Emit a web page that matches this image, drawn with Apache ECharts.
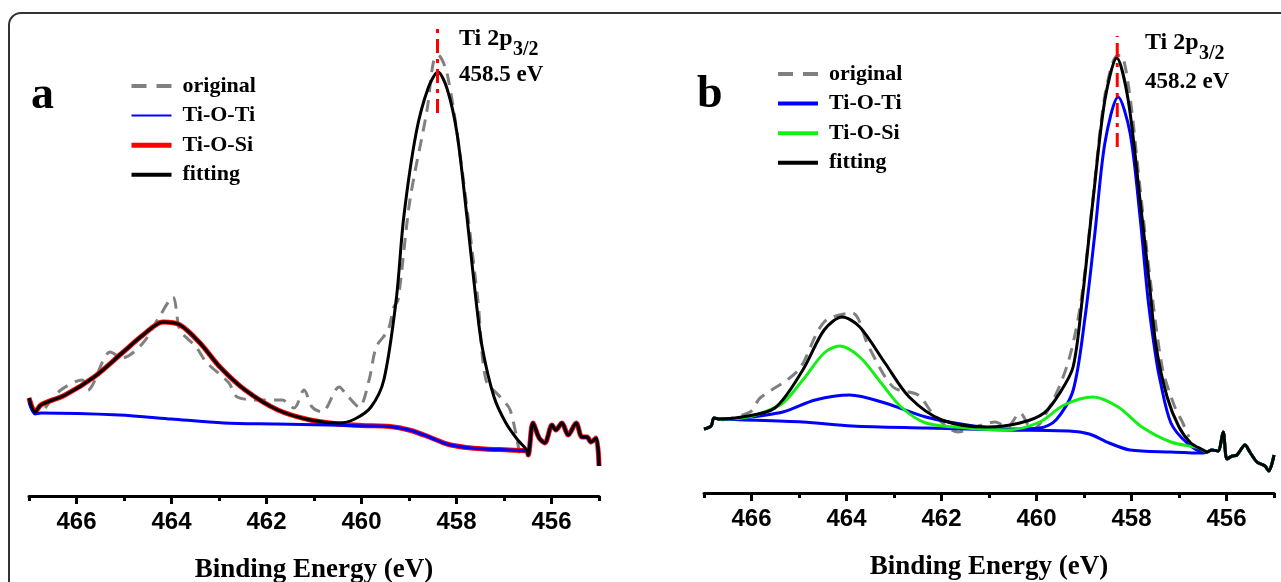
<!DOCTYPE html>
<html><head><meta charset="utf-8">
<script src="https://cdn.jsdelivr.net/npm/echarts@6/dist/echarts.min.js"></script>
<style>html,body{margin:0;padding:0;background:#fff}#c{width:1281px;height:582px}</style>
</head><body><div id="c"></div>
<script>
// ---------- tick labels ----------
const majorTicks = [456, 458, 460, 462, 464, 466];
const minorTicks = [455, 457, 459, 461, 463, 465, 467];

// ---------- panel a ----------
const aOrigE = [466.66, 466.33, 465.88, 465.76, 465.29, 465.04, 464.6, 464.26, 463.97, 463.82, 463.48, 463.27, 462.79, 462.62, 462.12, 461.67, 461.42, 461.21, 461.04, 460.83, 460.47, 460.31, 460.05, 459.84, 459.69, 459.44, 459.32, 459.23, 458.98, 458.62, 458.49, 458.39, 458.2, 457.91, 457.55, 457.38, 457.08, 456.87, 456.66];
const aOrigV = [17.6, 21.2, 23.2, 21.2, 28.8, 27.6, 30.6, 35.8, 39.8, 33.2, 29.8, 26.8, 22.6, 19.8, 19.2, 19.2, 17.6, 21.2, 17.8, 16.8, 21.8, 20.2, 17.8, 23.2, 29.8, 33.2, 37.8, 39.2, 59.2, 77.2, 86.6, 88.2, 84.6, 67.2, 39.2, 23.2, 19.8, 17.2, 7.8];

const aFitE = [467.0, 466.87, 466.75, 466.24, 465.63, 465.04, 464.6, 464.18, 463.82, 463.4, 462.98, 462.45, 461.76, 461.08, 460.47, 460.14, 459.8, 459.53, 459.27, 459.11, 458.85, 458.6, 458.39, 458.2, 457.99, 457.78, 457.59, 457.46, 457.21, 456.96, 456.71, 456.52];
const aFitV = [19.6, 16.8, 18.2, 20.2, 23.8, 28.6, 32.2, 34.8, 34.2, 30.6, 25.8, 21.2, 17.2, 15.2, 14.6, 15.4, 17.8, 23.2, 39.2, 55.8, 72.6, 81.5, 84.8, 81.5, 72.6, 55.8, 39.2, 29.8, 19.8, 14.6, 11.2, 9.2];

const aSiE = [467.0, 466.87, 466.75, 466.24, 465.63, 465.04, 464.6, 464.18, 463.82, 463.4, 462.98, 462.45, 461.76, 461.08, 460.47, 460.0, 459.4, 459.0, 458.6, 458.2, 457.8, 457.4, 456.9, 456.52];
const aSiV = [19.6, 16.8, 18.2, 20.2, 23.8, 28.6, 32.2, 34.8, 34.2, 30.6, 25.8, 21.2, 17.2, 15.2, 14.4, 14.1, 13.9, 13.2, 11.9, 10.4, 9.7, 9.4, 9.2, 9.0];

const aTiE = [467.0, 466.87, 466.75, 465.1, 464.0, 462.9, 461.8, 460.7, 459.8, 459.4, 459.0, 458.6, 458.2, 457.8, 457.4, 456.9, 456.52];
const aTiV = [18.8, 16.4, 16.6, 16.2, 15.4, 14.6, 14.4, 14.2, 14.0, 13.9, 13.2, 11.9, 10.4, 9.7, 9.4, 9.2, 9.0];

const aTailE = [456.49, 456.39, 456.26, 456.14, 455.99, 455.91, 455.78, 455.65, 455.48, 455.36, 455.25, 455.17, 455.06, 455.0];
const aTailV = [8.2, 14.6, 11.6, 10.6, 14.2, 13.2, 14.6, 12.2, 14.6, 11.8, 11.8, 10.8, 11.6, 6.0];

const aPeakE = [458.4, 458.4];
const aPeakV = [76.6, 93.4];

// ---------- panel b ----------
const bOrigE = [466.62, 466.03, 465.82, 465.25, 464.96, 464.47, 463.88, 463.53, 463.02, 462.49, 462.16, 461.65, 461.29, 460.87, 460.62, 460.35, 460.09, 459.67, 459.32, 459.06, 458.81, 458.56, 458.3, 458.22, 458.05, 457.82, 457.61, 457.35, 457.1, 456.92, 456.79];
const bOrigV = [14.6, 16.2, 19.0, 22.6, 25.2, 34.2, 36.0, 29.2, 21.2, 19.6, 15.6, 12.2, 13.2, 14.2, 13.2, 16.0, 12.6, 18.2, 26.6, 38.5, 59.0, 79.5, 87.5, 87.5, 80.5, 61.0, 43.0, 25.0, 17.5, 14.0, 11.2];

const bFitE = [467.0, 466.85, 466.79, 466.66, 466.2, 465.51, 464.92, 464.47, 464.09, 463.72, 463.19, 462.68, 461.99, 461.04, 460.35, 459.84, 459.51, 459.23, 459.04, 458.81, 458.56, 458.31, 458.07, 457.82, 457.61, 457.48, 457.25, 457.0, 456.75, 456.49];
const bFitV = [12.8, 13.4, 15.0, 14.8, 15.2, 17.0, 24.6, 32.6, 35.2, 33.2, 26.0, 19.2, 14.6, 13.2, 14.0, 16.0, 20.0, 25.2, 38.5, 58.6, 78.6, 87.0, 78.6, 58.6, 40.6, 29.2, 19.2, 13.2, 10.0, 8.6];

const bTiE = [467.0, 466.85, 466.79, 466.66, 466.2, 465.34, 464.66, 463.93, 463.19, 462.33, 461.46, 460.62, 459.93, 459.59, 459.23, 458.98, 458.77, 458.56, 458.28, 458.03, 457.82, 457.65, 457.5, 457.4, 457.17, 456.83, 456.49];
const bTiV = [12.8, 13.4, 15.0, 14.8, 15.0, 16.2, 18.6, 19.6, 18.0, 15.2, 13.6, 12.8, 13.0, 14.6, 20.5, 35.0, 52.0, 70.0, 79.2, 72.0, 55.2, 38.6, 28.0, 22.6, 14.0, 10.0, 8.2];

const bSiE = [467.0, 466.85, 466.79, 466.66, 466.2, 465.78, 465.34, 464.92, 464.47, 464.14, 463.72, 463.27, 462.85, 462.33, 461.46, 460.62, 459.93, 459.42, 458.81, 458.28, 457.78, 457.17, 456.58];
const bSiV = [12.8, 13.4, 15.0, 14.8, 15.0, 16.0, 18.0, 22.6, 28.0, 29.4, 27.2, 22.0, 17.2, 14.0, 13.0, 12.6, 14.2, 17.6, 19.2, 17.2, 13.2, 10.2, 9.0];

const bBgE = [467.0, 466.85, 466.79, 466.66, 464.92, 463.88, 462.33, 460.62, 459.32, 458.89, 458.47, 458.03, 457.17, 456.49];
const bBgV = [12.8, 13.4, 15.0, 14.8, 14.2, 13.4, 13.0, 12.6, 12.4, 11.8, 10.0, 8.6, 8.2, 8.0];

const bTailE = [456.41, 456.31, 456.18, 456.07, 455.99, 455.88, 455.78, 455.61, 455.51, 455.36, 455.19, 455.11, 455.0];
const bTailV = [8.2, 8.6, 8.4, 12.2, 6.8, 7.4, 7.6, 9.6, 8.2, 6.2, 5.4, 4.4, 7.6];

const bPeakE = [458.3, 458.3];
const bPeakV = [69.2, 91.4];

// ---------- helpers ----------
const zip = (E, V) => E.map((e, i) => [e, V[i]]);
const SERIF = "'Liberation Serif','Times New Roman',serif";
const SANS = "'Liberation Sans',Arial,sans-serif";

function xAxes(g) {
  return [{
    gridIndex: g, type: 'value', min: 455, max: 467, interval: 1, inverse: true, position: 'bottom',
    axisLine: { show: true, onZero: false, lineStyle: { color: '#000', width: 3 } },
    axisTick: { show: true, customValues: majorTicks, length: 8, lineStyle: { color: '#000', width: 3 } },
    axisLabel: { show: true, customValues: majorTicks, margin: 14, fontFamily: SANS, fontWeight: 'bold', fontSize: 24, color: '#000' },
    splitLine: { show: false },
    name: 'Binding Energy (eV)', nameLocation: 'middle', nameGap: 61,
    nameTextStyle: { fontFamily: SERIF, fontWeight: 'bold', fontSize: 27, color: '#000' }
  }, {
    gridIndex: g, type: 'value', min: 455, max: 467, interval: 1, inverse: true, position: 'bottom', offset: 0,
    axisLine: { show: false, onZero: false },
    axisTick: { show: true, customValues: minorTicks, length: 5, lineStyle: { color: '#000', width: 3 } },
    axisLabel: { show: false }, splitLine: { show: false }
  }];
}

function line(name, xi, yi, data, color, width, extra) {
  return Object.assign({
    name, type: 'line', xAxisIndex: xi, yAxisIndex: yi, data,
    symbol: 'none', smooth: 0.3, silent: true,
    lineStyle: { color, width }, itemStyle: { color }
  }, extra || {});
}
const dashed = { lineStyle: { color: '#808080', width: 3, type: [12, 8] } };
const dashDot = { smooth: false, lineStyle: { color: '#ff0000', width: 3, type: [14, 6, 4, 6] } };

const legendBase = {
  orient: 'vertical', itemWidth: 40, itemHeight: 14, itemGap: 7.6, selectedMode: false, padding: 0,
  lineStyle: { width: 4 },
  itemStyle: { opacity: 0 },
  textStyle: { fontFamily: SERIF, fontWeight: 'bold', fontSize: 22, color: '#000', lineHeight: 22, padding: [0, 0, 0, 6] },
  formatter: n => n.trim()
};
const legendDash = { width: 4, type: [15, 10] };

const option = {
  animation: false,
  backgroundColor: '#fff',
  grid: [
    { left: 29, right: 682, top: 16, bottom: 86, outerBoundsMode: 'none', containLabel: false },
    { left: 704, right: 7, top: 13, bottom: 89, outerBoundsMode: 'none', containLabel: false }
  ],
  xAxis: [...xAxes(0), ...xAxes(1)],
  yAxis: [
    { gridIndex: 0, type: 'value', min: 0, max: 96, show: false },
    { gridIndex: 1, type: 'value', min: 0, max: 96, show: false }
  ],
  legend: [
    Object.assign({}, legendBase, { left: 129, top: 75,
      data: [{ name: 'original', lineStyle: legendDash }, { name: 'Ti-O-Ti', lineStyle: { width: 2 } }, { name: 'Ti-O-Si', lineStyle: { width: 5 } }, { name: 'fitting' }] }),
    Object.assign({}, legendBase, { left: 776, top: 63,
      data: [{ name: 'original ', lineStyle: legendDash }, { name: 'Ti-O-Ti ' }, { name: 'Ti-O-Si ' }, { name: 'fitting ' }] })
  ],
  series: [
    // panel a
    line('original', 0, 0, zip(aOrigE, aOrigV), '#808080', 3, dashed),
    line('Ti-O-Si', 0, 0, zip(aSiE.concat(aTailE), aSiV.concat(aTailV)), '#ff0000', 5),
    line('Ti-O-Ti', 0, 0, zip(aTiE.concat(aTailE), aTiV.concat(aTailV)), '#0000ff', 3),
    line('fitting', 0, 0, zip(aFitE.concat(aTailE), aFitV.concat(aTailV)), '#000000', 3),
    line('peak a', 0, 0, zip(aPeakE, aPeakV), '#ff0000', 3, dashDot),
    // panel b
    line('original ', 2, 1, zip(bOrigE, bOrigV), '#808080', 3, dashed),
    line('background b', 2, 1, zip(bBgE.concat(bTailE), bBgV.concat(bTailV)), '#0000ff', 3),
    line('Ti-O-Ti ', 2, 1, zip(bTiE.concat(bTailE), bTiV.concat(bTailV)), '#0000ff', 3),
    line('Ti-O-Si ', 2, 1, zip(bSiE.concat(bTailE), bSiV.concat(bTailV)), '#14f014', 3),
    line('fitting ', 2, 1, zip(bFitE.concat(bTailE), bFitV.concat(bTailV)), '#000000', 3),
    line('peak b', 2, 1, zip(bPeakE, bPeakV), '#ff0000', 3, dashDot)
  ],
  graphic: [
    { type: 'rect', shape: { x: 9, y: 13, width: 1300, height: 620, r: 12 }, style: { fill: 'none', stroke: '#333', lineWidth: 2 }, silent: true },
    { type: 'text', x: 31, y: 96, style: { text: 'a', font: "bold 46px 'Liberation Serif'", fill: '#000', align: 'left', verticalAlign: 'middle' } },
    { type: 'text', x: 697, y: 95, style: { text: 'b', font: "bold 46px 'Liberation Serif'", fill: '#000', align: 'left', verticalAlign: 'middle' } },
    { type: 'text', x: 459, y: 39, style: { text: 'Ti 2p', font: "bold 24px 'Liberation Serif'", fill: '#000', align: 'left', verticalAlign: 'middle' } },
    { type: 'text', x: 513, y: 50, style: { text: '3/2', font: "bold 20px 'Liberation Serif'", fill: '#000', align: 'left', verticalAlign: 'middle' } },
    { type: 'text', x: 459, y: 75, style: { text: '458.5 eV', font: "bold 23px 'Liberation Serif'", fill: '#000', align: 'left', verticalAlign: 'middle' } },
    { type: 'text', x: 1145, y: 43, style: { text: 'Ti 2p', font: "bold 24px 'Liberation Serif'", fill: '#000', align: 'left', verticalAlign: 'middle' } },
    { type: 'text', x: 1199, y: 54, style: { text: '3/2', font: "bold 20px 'Liberation Serif'", fill: '#000', align: 'left', verticalAlign: 'middle' } },
    { type: 'text', x: 1145, y: 82, style: { text: '458.2 eV', font: "bold 23px 'Liberation Serif'", fill: '#000', align: 'left', verticalAlign: 'middle' } }
  ]
};

const chart = echarts.init(document.getElementById('c'), null, { renderer: 'canvas' });
chart.setOption(option);
</script></body></html>
